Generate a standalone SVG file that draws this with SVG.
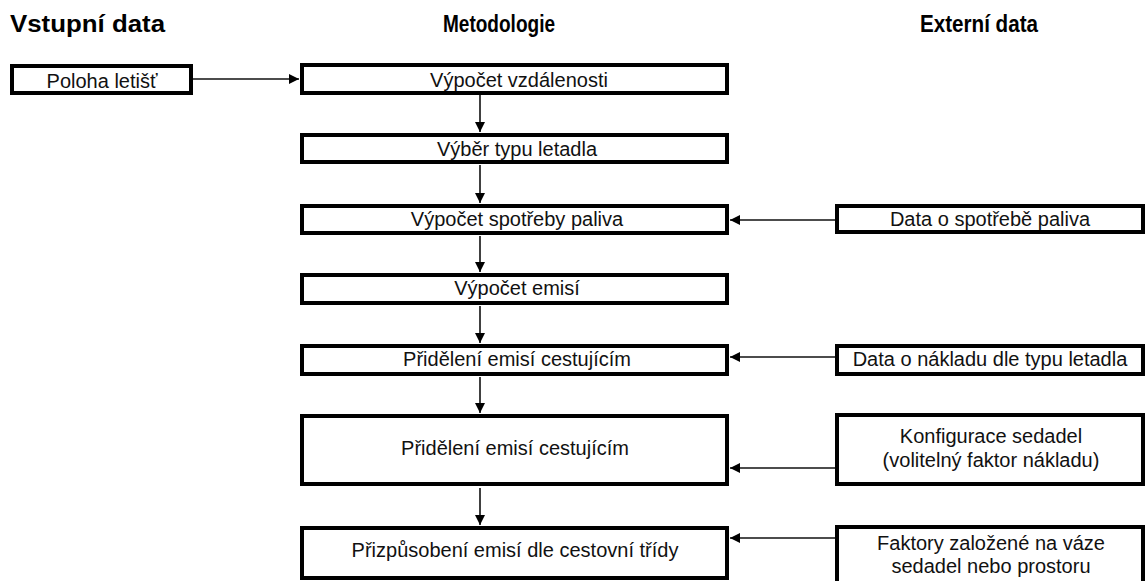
<svg xmlns="http://www.w3.org/2000/svg" width="1146" height="581" viewBox="0 0 1146 581">
<style>
.box{fill:#fff;stroke:#000;stroke-width:4}
.t{font-family:"Liberation Sans",Arial,sans-serif;font-size:20px;fill:#111;text-anchor:middle}
.h{font-family:"Liberation Sans",Arial,sans-serif;font-size:23px;font-weight:bold;fill:#000}
.c{stroke:#111;stroke-width:1.6;fill:none;marker-end:url(#ah)}
</style>
<defs>
<marker id="ah" viewBox="0 0 10 10" refX="10" refY="5" markerWidth="10" markerHeight="10" markerUnits="userSpaceOnUse" orient="auto">
<path d="M0,0 L10,5 L0,10 Z" fill="#000"/>
</marker>
</defs>
<rect width="1146" height="581" fill="#fff"/>
<g id="headers">
<text class="h" x="10" y="32" textLength="155" lengthAdjust="spacingAndGlyphs">Vstupní data</text>
<text class="h" x="443" y="32" textLength="112" lengthAdjust="spacingAndGlyphs">Metodologie</text>
<text class="h" x="920" y="32" textLength="118" lengthAdjust="spacingAndGlyphs">Externí data</text>
</g>
<g id="connectors">
<line class="c" x1="193" y1="79" x2="299" y2="79"/>
<line class="c" x1="480" y1="95" x2="480" y2="132"/>
<line class="c" x1="480" y1="165" x2="480" y2="203"/>
<line class="c" x1="480" y1="236" x2="480" y2="272"/>
<line class="c" x1="480" y1="306" x2="480" y2="343"/>
<line class="c" x1="480" y1="377" x2="480" y2="413"/>
<line class="c" x1="480" y1="488" x2="480" y2="525"/>
<line class="c" x1="835" y1="220" x2="730" y2="220"/>
<line class="c" x1="835" y1="357" x2="730" y2="357"/>
<line class="c" x1="835" y1="468" x2="730" y2="468"/>
<line class="c" x1="835" y1="538" x2="730" y2="538"/>
</g>
<g id="n-poloha"><rect class="box" x="12" y="66" width="179" height="27"/><text class="t" x="102" y="88">Poloha letišť</text></g>
<g id="n-vzdalenost"><rect class="box" x="302" y="65" width="425" height="28"/><text class="t" x="519" y="87">Výpočet vzdálenosti</text></g>
<g id="n-vyber"><rect class="box" x="302" y="135" width="425" height="27"/><text class="t" x="517" y="156">Výběr typu letadla</text></g>
<g id="n-spotreba"><rect class="box" x="302" y="206" width="425" height="27"/><text class="t" x="517" y="226">Výpočet spotřeby paliva</text></g>
<g id="n-emise"><rect class="box" x="302" y="275" width="425" height="28"/><text class="t" x="517" y="295">Výpočet emisí</text></g>
<g id="n-prideleni1"><rect class="box" x="302" y="346" width="425" height="28"/><text class="t" x="517" y="366">Přidělení emisí cestujícím</text></g>
<g id="n-prideleni2"><rect class="box" x="302" y="416" width="425" height="68"/><text class="t" x="515" y="455">Přidělení emisí cestujícím</text></g>
<g id="n-prizpusobeni"><rect class="box" x="302" y="528" width="425" height="50"/><text class="t" x="515" y="557">Přizpůsobení emisí dle cestovní třídy</text></g>
<g id="n-data-spotreba"><rect class="box" x="837" y="206" width="306" height="26"/><text class="t" x="990" y="226">Data o spotřebě paliva</text></g>
<g id="n-data-naklad"><rect class="box" x="837" y="346" width="306" height="28"/><text class="t" x="990" y="366">Data o nákladu dle typu letadla</text></g>
<g id="n-konfigurace"><rect class="box" x="837" y="415" width="306" height="69"/><text class="t" x="991" y="443">Konfigurace sedadel</text><text class="t" x="991" y="467">(volitelný faktor nákladu)</text></g>
<g id="n-faktory"><rect class="box" x="837" y="527" width="306" height="56"/><text class="t" x="991" y="550">Faktory založené na váze</text><text class="t" x="991" y="573">sedadel nebo prostoru</text></g>
</svg>
